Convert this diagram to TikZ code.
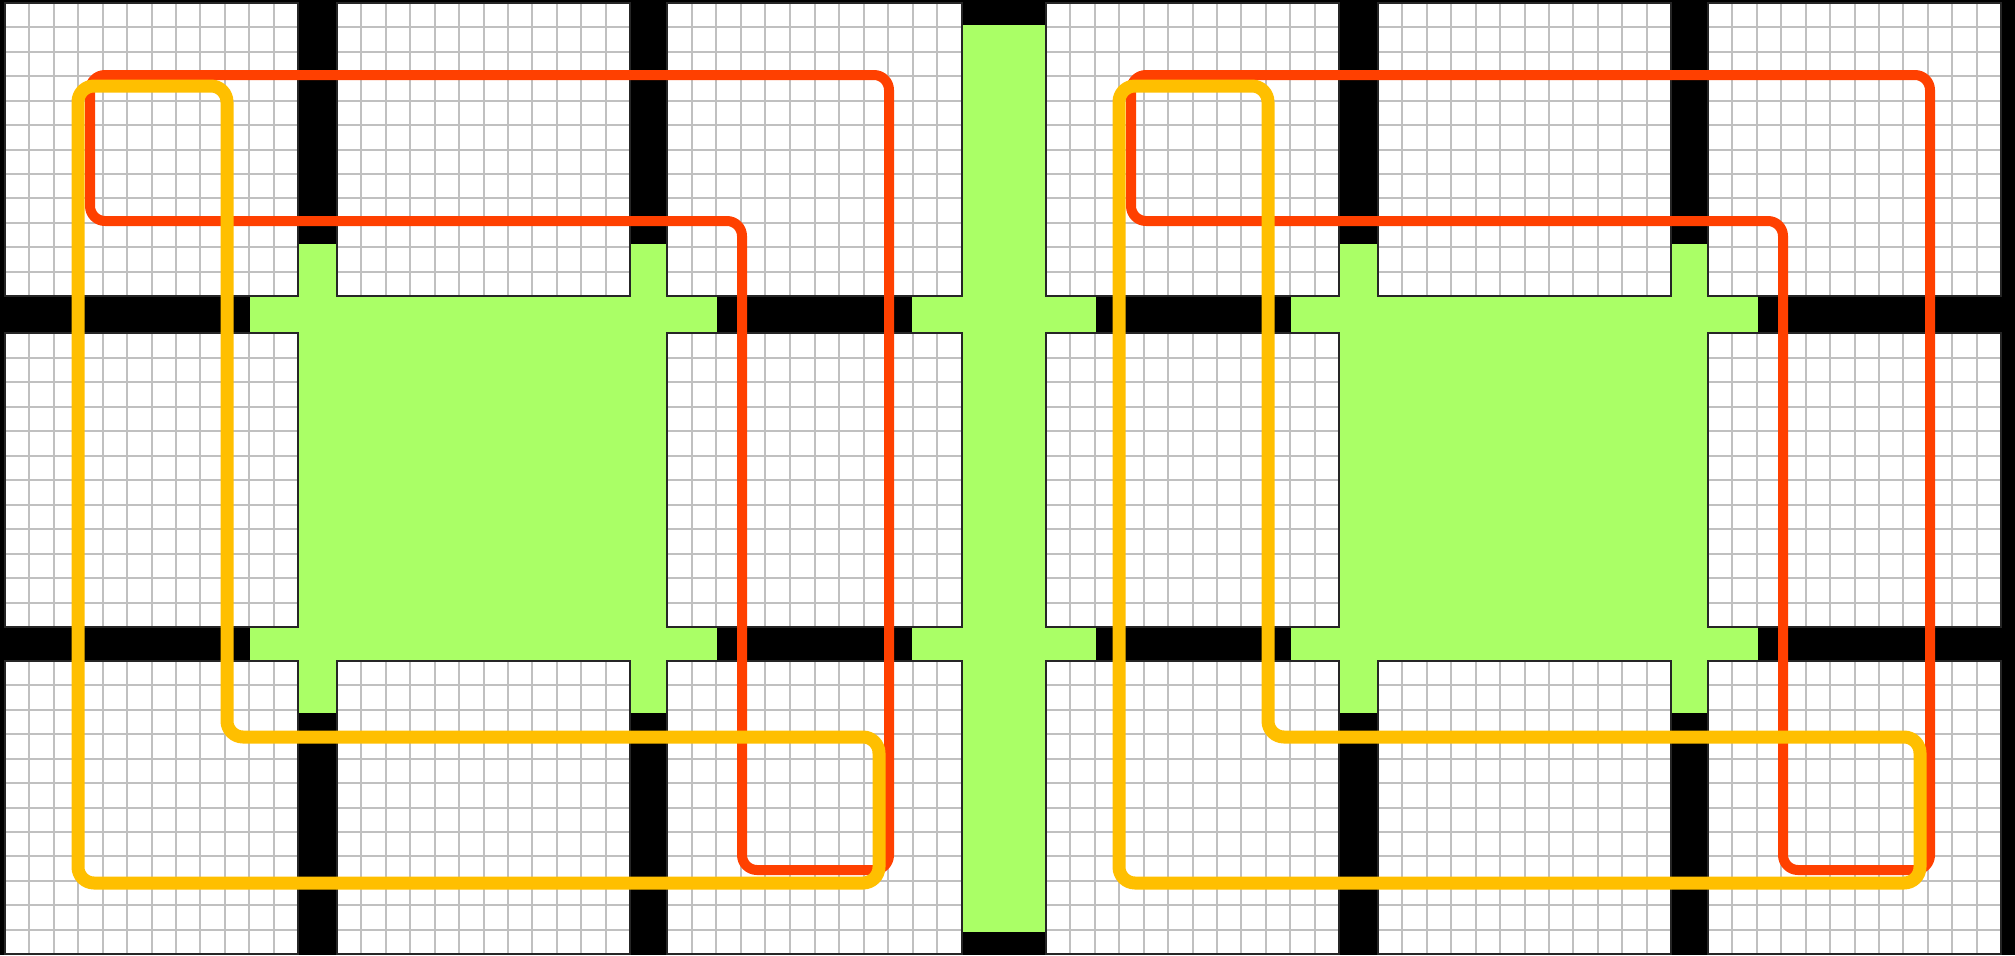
\documentclass[tikz,border=0pt]{standalone}
\definecolor{grn}{HTML}{AAFF66}
\definecolor{rd}{HTML}{FF4000}
\definecolor{yl}{HTML}{FFBF00}
\definecolor{gl}{HTML}{C0C0C0}
\tikzset{
  gridline/.style={draw=gl, line width=1pt},
  blockborder/.style={draw=black!85, line width=1pt},
  blockfill/.style={fill=white},
  greenfill/.style={fill=grn},
  redloop/.style={draw=rd, line width=5pt, rounded corners=7.5pt, line join=round},
  yelloop/.style={draw=yl, line width=6.5pt, rounded corners=8pt, line join=round},
}
\begin{document}
\begin{tikzpicture}[x=0.5pt,y=-0.5pt]
\useasboundingbox (0,0) rectangle (2015,955);
\fill[black] (0,0) rectangle (2015,955);
% green regions of the two halves
\foreach \o in {0,1041}{
  \begin{scope}[shift={(\o,0)}]
    \fill[greenfill] (250,296) rectangle (717,333);
    \fill[greenfill] (250,627) rectangle (717,661);
    \fill[greenfill] (298,244) rectangle (337,713);
    \fill[greenfill] (630,244) rectangle (667,713);
    \fill[greenfill] (298,296) rectangle (667,661);
  \end{scope}
}
% central strip
\fill[greenfill] (962,25) rectangle (1046,932);
\fill[greenfill] (912,296) rectangle (1096,333);
\fill[greenfill] (912,627) rectangle (1096,661);
% grid blocks
\foreach \xa/\xb/\ya/\yb in {
  5/298/3/296, 337/630/3/296, 667/962/3/296,
  5/298/333/627, 667/962/333/627,
  5/298/661/954, 337/630/661/954, 667/962/661/954,
  1046/1339/3/296, 1378/1671/3/296, 1708/2001/3/296,
  1046/1339/333/627, 1708/2001/333/627,
  1046/1339/661/954, 1378/1671/661/954, 1708/2001/661/954}{
  \fill[blockfill] (\xa,\ya) rectangle (\xb,\yb);
  \foreach \k in {1,...,11}{
    \pgfmathsetmacro\gx{\xa+(\xb-\xa)*\k/12}
    \pgfmathsetmacro\gy{\ya+(\yb-\ya)*\k/12}
    \draw[gridline] (\gx,\ya) -- (\gx,\yb);
    \draw[gridline] (\xa,\gy) -- (\xb,\gy);
  }
  \draw[blockborder] (\xa,\ya) rectangle (\xb,\yb);
}
% loops
\foreach \o in {0,1041}{
  \begin{scope}[shift={(\o,0)}]
    \draw[redloop] (90,75) -- (889,75) -- (889,870) -- (742,870) -- (742,221) -- (90,221) -- cycle;
  \end{scope}
}
\foreach \o in {0,1041}{
  \begin{scope}[shift={(\o,0)}]
    \draw[yelloop] (78,86) -- (227,86) -- (227,737) -- (879,737) -- (879,883) -- (78,883) -- cycle;
  \end{scope}
}
\end{tikzpicture}
\end{document}
